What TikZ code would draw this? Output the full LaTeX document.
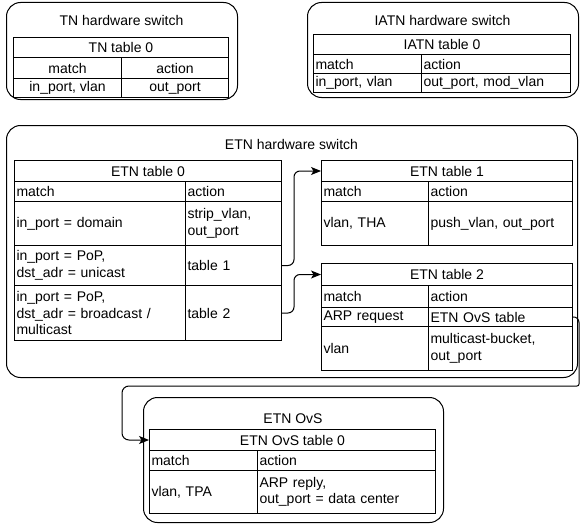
\documentclass[tikz,border=0pt]{standalone}
\usepackage{fontspec}
\setmainfont{Liberation Sans}
\usetikzlibrary{arrows.meta}
\newcommand\cellC[6]{%
  \pgfmathsetmacro\cw{#4-#2}\pgfmathsetmacro\ch{#5-#3}%
  \node[cell, minimum width=\cw pt, minimum height=\ch pt, align=center] (#1) at (#2,#3) {#6};}
\newcommand\cellL[6]{%
  \pgfmathsetmacro\cw{#4-#2}\pgfmathsetmacro\ch{#5-#3}\pgfmathsetmacro\tw{#4-#2-4}%
  \node[cell, minimum width=\cw pt, minimum height=\ch pt, text width=\tw pt, inner xsep=2pt, align=left] (#1) at (#2,#3) {#6};}
\begin{document}
\begin{tikzpicture}[x=1pt,y=-1pt,
  every node/.style={font=\fontsize{14}{16.5}\selectfont},
  swbox/.style={draw, line width=1pt, rounded corners=14pt, anchor=north west, inner sep=0pt},
  cell/.style={draw, line width=1pt, anchor=north west, inner sep=0pt},
  conn/.style={draw, line width=1pt, rounded corners=6pt, -{Stealth[length=10pt,width=8pt,inset=2.5pt]}}]
\useasboundingbox (0,0) rectangle (581,527);

% TN hardware switch
\node[swbox, minimum width=231pt, minimum height=97pt] (tn) at (6,2) {};
\node (tntitle) at (121.5,20) {TN hardware switch};
\cellC{tnT}{13}{37}{228}{57}{TN table 0}
\cellC{tnM}{13}{57}{121}{78}{match}
\cellC{tnA}{121}{57}{228}{78}{action}
\cellC{tnD1}{13}{78}{121}{97}{in\_port, vlan}
\cellC{tnD2}{121}{78}{228}{97}{out\_port}

% IATN hardware switch
\node[swbox, minimum width=271pt, minimum height=95pt] (iatn) at (307,2) {};
\node (iatntitle) at (442.5,20) {IATN hardware switch};
\cellC{iT}{313}{34}{570}{54}{IATN table 0}
\cellL{iM}{313}{54}{421}{73}{match}
\cellL{iA}{421}{54}{570}{73}{action}
\cellL{iD1}{313}{73}{421}{92}{in\_port, vlan}
\cellL{iD2}{421}{73}{570}{92}{out\_port, mod\_vlan}

% ETN hardware switch
\node[swbox, minimum width=571pt, minimum height=252pt] (etn) at (6,125) {};
\node (etntitle) at (291.5,144) {ETN hardware switch};

\cellC{e0T}{14}{160}{281}{181}{ETN table 0}
\cellL{e0M}{14}{181}{185}{201}{match}
\cellL{e0A}{185}{181}{281}{201}{action}
\cellL{e0R1m}{14}{201}{185}{245}{in\_port = domain}
\cellL{e0R1a}{185}{201}{281}{245}{strip\_vlan,\\out\_port}
\cellL{e0R2m}{14}{245}{185}{285}{in\_port = PoP,\\dst\_adr = unicast}
\cellL{e0R2a}{185}{245}{281}{285}{table 1}
\cellL{e0R3m}{14}{285}{185}{340}{in\_port = PoP,\\dst\_adr = broadcast /\\multicast}
\cellL{e0R3a}{185}{285}{281}{340}{table 2}

\cellC{e1T}{321}{160}{572}{181}{ETN table 1}
\cellL{e1M}{321}{181}{428}{201}{match}
\cellL{e1A}{428}{181}{572}{201}{action}
\cellL{e1D1}{321}{201}{428}{245}{vlan, THA}
\cellL{e1D2}{428}{201}{572}{245}{push\_vlan, out\_port}

\cellC{e2T}{321}{263}{572}{285}{ETN table 2}
\cellL{e2M}{321}{285}{428}{307}{match}
\cellL{e2A}{428}{285}{572}{307}{action}
\cellL{e2R1m}{321}{307}{428}{326}{ARP request}
\cellL{e2R1a}{428}{307}{572}{326}{ETN OvS table}
\cellL{e2R2m}{321}{326}{428}{370}{vlan}
\cellL{e2R2a}{428}{326}{572}{370}{multicast-bucket,\\out\_port}

% ETN OvS
\node[swbox, minimum width=300pt, minimum height=125pt] (ovs) at (143,397) {};
\node (ovstitle) at (293,419) {ETN OvS};
\cellC{oT}{149}{429}{435}{450}{ETN OvS table 0}
\cellL{oM}{149}{450}{257}{470}{match}
\cellL{oA}{257}{450}{435}{470}{action}
\cellL{oD1}{149}{470}{257}{513}{vlan, TPA}
\cellL{oD2}{257}{470}{435}{513}{ARP reply,\\out\_port = data center}

% connectors
\draw[conn] (e0R2a.east) -- ++(12,0) |- (e1T.west);
\draw[conn] (e0R3a.east) -- ++(12,0) |- (e2T.west);
\coordinate (c0) at (579,316.5);
\coordinate (c2) at (579,386);
\coordinate (c1) at (122,386);
\draw[conn] (e2R1a.east) -- (c0) [rounded corners=2pt] -- (c2) [rounded corners=7pt] -- (c1) |- (oT.west);
\end{tikzpicture}
\end{document}
